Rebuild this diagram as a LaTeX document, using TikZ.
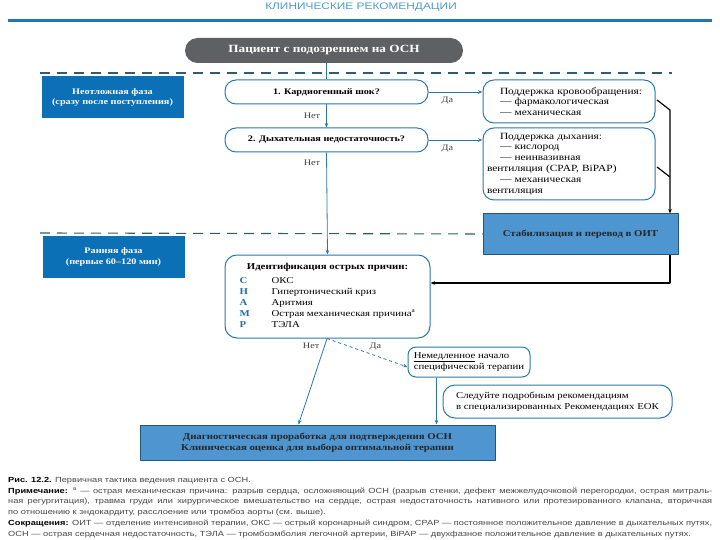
\documentclass[tikz,border=0pt]{standalone}
\usepackage{fontspec}
\setmainfont[FakeStretch=1.2]{Liberation Serif}
\newfontfamily\capfont[FakeStretch=1.25]{Liberation Sans}
\usetikzlibrary{arrows.meta}
\definecolor{phaseblue}{HTML}{0C70B6}
\definecolor{edgeblue}{HTML}{2A78A8}
\definecolor{fillblue}{HTML}{4F95D0}
\definecolor{darkedge}{HTML}{24557A}
\definecolor{pillgray}{HTML}{5D6164}
\definecolor{dashteal}{HTML}{2D5C78}
\definecolor{headblue}{HTML}{4C9ACF}
\definecolor{rulerblue}{HTML}{2079B5}
\definecolor{notegray}{HTML}{444444}
\definecolor{letterblue}{HTML}{1F6FB0}
\begin{document}
\begin{tikzpicture}[x=1pt,y=-1pt,line join=round,>={Stealth[length=4.5pt,width=3.5pt]},
	every node/.style={font=\fontsize{9}{11}\selectfont,inner sep=2pt},
	phase/.style={fill=phaseblue,text=white,align=center,minimum width=142pt,minimum height=42pt,font=\fontsize{8.5}{10.5}\selectfont\bfseries},
	ask/.style={draw=edgeblue,line width=1pt,rounded corners=11pt,minimum width=203pt,minimum height=24pt,font=\fontsize{8.5}{10.5}\selectfont\bfseries},
	care/.style={draw=edgeblue,line width=1pt,rounded corners=9pt,align=left},
	plate/.style={draw=darkedge,line width=1pt,fill=fillblue,align=center,text=black!85,font=\fontsize{9}{11}\selectfont\bfseries},
	flow/.style={draw=edgeblue,line width=0.8pt},
	rail/.style={draw=black,line width=1.2pt},
	phaseline/.style={draw=dashteal,line width=1.1pt,dash pattern=on 10pt off 7pt},
	tag/.style={font=\fontsize{8.5}{10}\selectfont,text=black!75}]
	\useasboundingbox (0,0) rectangle (720,540);
	\path
	(8,21) coordinate (rulel)
	(712,21) coordinate (ruler)
	(40,73) coordinate (d1l)
	(672,73) coordinate (d1r)
	(40,233) coordinate (d2l)
	(657,100) coordinate (tick1)
	(670,110) coordinate (rail1)
	(657,167) coordinate (tick2)
	(670,177) coordinate (rail2)
	(670,283) coordinate (turn);
	\node[text=headblue,font=\capfont\fontsize{9.5}{10}\selectfont] (head) at (361,7) {КЛИНИЧЕСКИЕ РЕКОМЕНДАЦИИ};
	\draw[rulerblue,line width=3pt] (rulel) -- (ruler);
	\draw[phaseline] (d1l) -- (d1r);
	\node[fill=pillgray,rounded corners=12.5pt,minimum width=278pt,minimum height=25pt,text=white,font=\fontsize{11}{13}\selectfont\bfseries] (patient) at (324,50.5) {Пациент с подозрением на ОСН};
	\node[phase] (urgent) at (112.5,97.5) {Неотложная фаза\\(сразу после поступления)};
	\node[phase] (early) at (113.5,257) {Ранняя фаза\\(первые 60–120 мин)};
	\node[ask] (q1) at (326.5,92) {1. Кардиогенный шок?};
	\node[ask] (q2) at (326.5,140) {2. Дыхательная недостаточность?};
	\node[care,rounded corners=11pt,minimum width=172pt,minimum height=43pt,text width=164pt,font=\fontsize{9.5}{10.8}\selectfont] (sup1) at (569,101.5) {\hspace*{13pt}Поддержка кровообращения:\\\hspace*{13pt}— фармакологическая\\\hspace*{13pt}— механическая};
	\node[care,rounded corners=11pt,minimum width=172pt,minimum height=72pt,text width=164pt,font=\fontsize{9.5}{10.8}\selectfont] (sup2) at (569,164) {\hspace*{13pt}Поддержка дыхания:\\\hspace*{13pt}— кислород\\\hspace*{13pt}— неинвазивная\\вентиляция (CPAP, BiPAP)\\\hspace*{13pt}— механическая\\вентиляция};
	\node[plate,minimum width=195pt,minimum height=40pt] (stab) at (580.5,234) {Стабилизация и перевод в ОИТ};
	\draw[phaseline] (d2l) -- (stab.west);
	\node[care,rounded corners=12pt,minimum width=205pt,minimum height=83pt] (ident) at (327.5,296.5) {\begin{tabular}{@{}p{32pt}@{}l@{}}
			\multicolumn{2}{c}{\bfseries Идентификация острых причин:}\\[3pt]
			\textcolor{letterblue}{\bfseries C} & ОКС\\
			\textcolor{letterblue}{\bfseries H} & Гипертонический криз\\
			\textcolor{letterblue}{\bfseries A} & Аритмия\\
			\textcolor{letterblue}{\bfseries M} & Острая механическая причина\textsuperscript{a}\\
			\textcolor{letterblue}{\bfseries P} & ТЭЛА
	\end{tabular}};
	\node[care,rounded corners=8pt,minimum width=122pt,minimum height=30pt] (now) at (469,362) {\underline{Немедленное} начало\\специфической терапии};
	\node[care,rounded corners=12pt,minimum width=229pt,minimum height=33pt] (esc) at (557.5,401.5) {Следуйте подробным рекомендациям\\в специализированных Рекомендациях ЕОК};
	\node[plate,minimum width=355pt,minimum height=35pt] (diag) at (317.5,442.5) {Диагностическая проработка для подтверждения ОСН\\Клиническая оценка для выбора оптимальной терапии};
	\coordinate (drop) at ([xshift=29pt]now.south west);
	\draw[flow] (q1.north |- patient.south) -- (q1.north);
	\draw[flow,->] (q1.south) -- (q2.north) node[tag,midway,left=4pt] (no1) {Нет};
	\draw[flow,->] (q2.south) -- (ident.north) node[tag,pos=0.1,left=4pt] (no2) {Нет};
	\draw[flow,->] (q1.east) -- (q1.east -| sup1.west) node[tag,pos=0.35,below=3pt] (yes1) {Да};
	\draw[flow,->] (q2.east) -- (q2.east -| sup2.west) node[tag,pos=0.35,below=3pt] (yes2) {Да};
	\draw[rail,->] (tick1) -- (rail1) -- (rail1 |- stab.north);
	\draw[rail] (tick2) -- (rail2);
	\draw[rail,->] (rail1 |- stab.south) -- (turn) -- (turn -| ident.east);
	\draw[flow,->] ([xshift=-0.5pt]ident.south) -- ([xshift=-19pt]diag.north) node[tag,pos=0.08,left=3pt] (no3) {Нет};
	\draw[flow,->,dashed] ([xshift=-0.5pt]ident.south) -- ([yshift=-5pt]now.west) node[tag,pos=0.6,above=3pt] (yes3) {Да};
	\draw[flow,->] (drop) -- (drop |- diag.north);
	\node[anchor=north west,text width=704pt,align=justify,inner sep=0pt,text=notegray,font=\capfont\fontsize{7.4}{10.8}\selectfont] (note) at (8,477) {\textcolor{black}{\bfseries Рис. 12.2.} Первичная тактика ведения пациента с ОСН.\\
		\textcolor{black}{\bfseries Примечание:} \textsuperscript{a} — острая механическая причина: разрыв сердца, осложняющий ОСН (разрыв стенки, дефект межжелудочковой перегородки, острая митраль-\linebreak ная регургитация), травма груди или хирургическое вмешательство на сердце, острая недостаточность нативного или протезированного клапана, вторичная\linebreak по отношению к эндокардиту, расслоение или тромбоз аорты (см. выше).\\
		\textcolor{black}{\bfseries Сокращения:} ОИТ — отделение интенсивной терапии, ОКС — острый коронарный синдром, CPAP — постоянное положительное давление в дыхательных путях,\linebreak ОСН — острая сердечная недостаточность, ТЭЛА — тромбоэмболия легочной артерии, BiPAP — двухфазное положительное давление в дыхательных путях.};
\end{tikzpicture}
\end{document}
